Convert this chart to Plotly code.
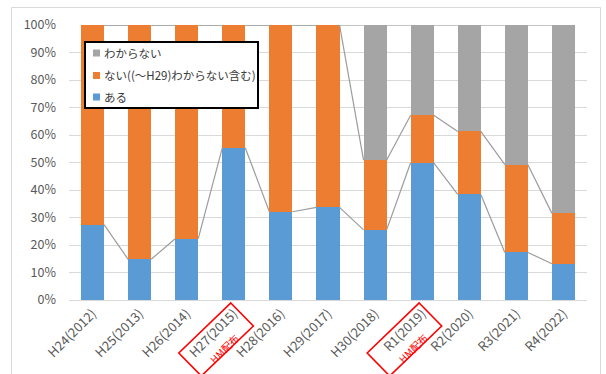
import plotly.graph_objects as go

categories = ["H24(2012)", "H25(2013)", "H26(2014)", "H27(2015)", "H28(2016)", "H29(2017)",
              "H30(2018)", "R1(2019)", "R2(2020)", "R3(2021)", "R4(2022)"]
aru = [27.4, 14.8, 22.3, 55.3, 32.1, 33.7, 25.5, 49.9, 38.4, 17.3, 13.2]
nai = [72.6, 85.2, 77.7, 44.7, 67.9, 66.3, 25.4, 17.3, 22.9, 31.9, 18.3]
wakaranai = [0, 0, 0, 0, 0, 0, 49.1, 32.8, 38.7, 50.8, 68.5]
hm_years = ["H27(2015)", "R1(2019)"]

names = ["ある", "ない((〜H29)わからない含む)", "わからない"]
colors = ["#5b9bd5", "#ed7d31", "#a5a5a5"]

FONT = "Noto Sans CJK JP"
W, H = 606, 374
L, R, T, B = 69, 19, 25, 74
PW, PH = W - L - R, H - T - B
bw = 0.49
xs = list(range(len(categories)))

fig = go.Figure()
for vals, nm, col in zip([aru, nai, wakaranai], names, colors):
    fig.add_trace(go.Bar(x=xs, y=vals, name=nm, marker=dict(color=col, line=dict(width=0)),
                         width=bw, showlegend=False))

# series lines
cum1 = aru
cum2 = [a + b for a, b in zip(aru, nai)]
cum3 = [a + b + c for a, b, c in zip(aru, nai, wakaranai)]
for cum in (cum1, cum2, cum3):
    lx, ly = [], []
    for i in range(len(xs) - 1):
        lx += [xs[i] + bw / 2, xs[i + 1] - bw / 2, None]
        ly += [cum[i], cum[i + 1], None]
    fig.add_trace(go.Scatter(x=lx, y=ly, mode="lines", line=dict(color="#9c9c9c", width=1.2),
                             hoverinfo="skip", showlegend=False))

def px2x(px):
    return (px - L) / PW

def py2y(py):
    return (T + PH - py) / PH

shapes = []
annotations = []
# chart border
shapes.append(dict(type="rect", xref="paper", yref="paper", x0=px2x(11.5), x1=px2x(600.5),
                   y0=py2y(400), y1=py2y(7.5), line=dict(color="#d9d9d9", width=1), layer="below"))

# manual legend
shapes.append(dict(type="rect", xref="paper", yref="paper", x0=px2x(85), x1=px2x(258),
                   y0=py2y(108), y1=py2y(42), line=dict(color="#000000", width=2),
                   fillcolor="white", layer="above"))
leg_y = [53, 75.5, 97]
for yy, nm, col in zip(leg_y, names[::-1], colors[::-1]):
    shapes.append(dict(type="rect", xref="paper", yref="paper", x0=px2x(93), x1=px2x(100),
                       y0=py2y(yy + 3.5), y1=py2y(yy - 3.5), line=dict(width=0), fillcolor=col,
                       layer="above"))
    annotations.append(dict(xref="paper", yref="paper", x=px2x(102), y=py2y(yy), text=nm,
                            showarrow=False, xanchor="left", yanchor="middle",
                            font=dict(family=FONT, size=11.5, color="#3a3a3a")))

# red boxes around HM years
for cat in hm_years:
    i = categories.index(cat)
    xa = (i + 0.5) / len(categories)
    path = "M-3,-3 L19.5,-26 L-32.5,-76 L-55,-53 Z"
    shapes.append(dict(type="path", xref="paper", yref="paper", xsizemode="pixel",
                       ysizemode="pixel", xanchor=xa, yanchor=0, path=path,
                       line=dict(color="#ff0000", width=1.6), layer="above"))
    annotations.append(dict(xref="paper", yref="paper", x=xa, y=0, xshift=-10, yshift=-48,
                            text="HM配布", textangle=-45, showarrow=False,
                            xanchor="center", yanchor="middle",
                            font=dict(family=FONT, size=10, color="#ff0000")))

fig.update_layout(
    width=W, height=H, barmode="stack", bargap=0.51,
    margin=dict(l=L, r=R, t=T, b=B),
    paper_bgcolor="white", plot_bgcolor="white",
    font=dict(family=FONT, color="#595959"),
    shapes=shapes, annotations=annotations,
    xaxis=dict(tickmode="array", tickvals=xs, ticktext=categories, range=[-0.5, len(xs) - 0.5],
               tickangle=-45, showgrid=False, showline=True, linecolor="#d9d9d9", linewidth=1,
               ticks="", tickfont=dict(family=FONT, size=13, color="#595959"), zeroline=False),
    yaxis=dict(range=[0, 100], dtick=10, ticksuffix="%", showgrid=True, gridcolor="#d9d9d9",
               gridwidth=1, zeroline=False, showline=False, ticks="",
               tickfont=dict(family=FONT, size=12.5, color="#595959"), ticklabelstandoff=12),
)

fig.write_html("out.html")
